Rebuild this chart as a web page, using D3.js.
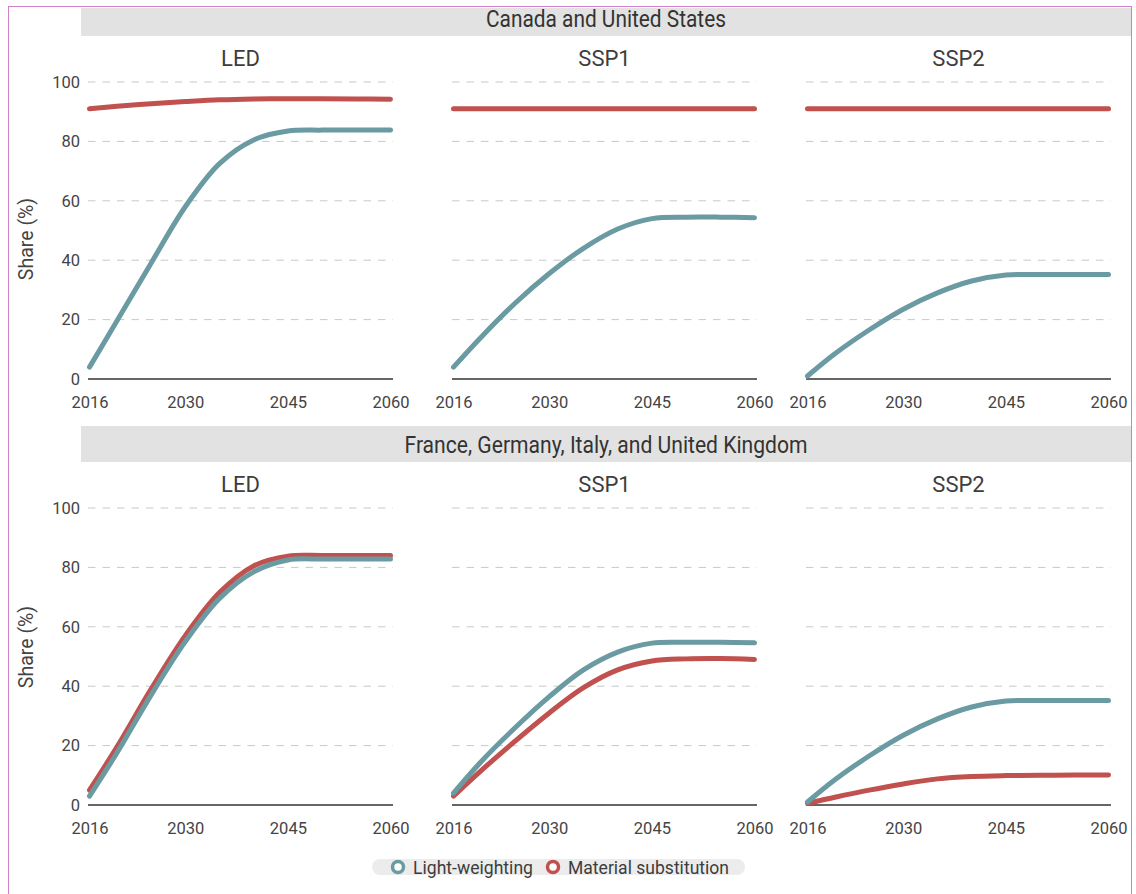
<!DOCTYPE html>
<html>
<head>
<meta charset="utf-8">
<script src="https://cdn.jsdelivr.net/npm/d3@7"></script>
<style>
  body { margin: 0; background: #fff; }
  text { font-family: Roboto, "Noto Sans", sans-serif; }
</style>
</head>
<body>
<script>
// data
const years = [2016, 2020, 2025, 2030, 2035, 2040, 2045, 2050, 2055, 2060];
const regions = ["Canada and United States", "France, Germany, Italy, and United Kingdom"];
const scenarios = ["LED", "SSP1", "SSP2"];
const measures = ["Light-weighting", "Material substitution"];
const xTicks = [2016, 2030, 2045, 2060];
const yTicks = [0, 20, 40, 60, 80, 100];

// Canada and United States
const naLedLight = [4, 19.5, 39, 58, 72.5, 80.5, 83.5, 83.8, 83.8, 83.8];
const naLedMaterial = [91, 91.8, 92.7, 93.4, 94, 94.3, 94.4, 94.4, 94.3, 94.2];
const naSsp1Light = [4, 14, 25.5, 35.5, 44, 50.5, 54, 54.5, 54.5, 54.3];
const naSsp1Material = [91, 91, 91, 91, 91, 91, 91, 91, 91, 91];
const naSsp2Light = [1, 8.5, 16.5, 23.5, 29, 33, 35, 35.2, 35.2, 35.2];
const naSsp2Material = [91, 91, 91, 91, 91, 91, 91, 91, 91, 91];

// France, Germany, Italy, and United Kingdom
const euLedLight = [3, 17.5, 37, 55, 69.5, 78.5, 82.5, 82.8, 82.8, 82.8];
const euLedMaterial = [5, 19.5, 39, 57, 71.5, 80.5, 83.8, 84, 84, 84];
const euSsp1Light = [4, 14.5, 26, 36.5, 45.5, 51.5, 54.5, 54.8, 54.8, 54.6];
const euSsp1Material = [3, 11.5, 21.5, 31, 39.5, 45.5, 48.5, 49.2, 49.3, 49];
const euSsp2Light = [1, 8.5, 16.5, 23.5, 29, 33, 35, 35.2, 35.2, 35.2];
const euSsp2Material = [0.5, 2.6, 5, 7.1, 8.8, 9.6, 9.9, 10, 10.1, 10.1];

// [region][scenario] -> [light, material]
const series = [
    [[naLedLight, naLedMaterial], [naSsp1Light, naSsp1Material], [naSsp2Light, naSsp2Material]],
    [[euLedLight, euLedMaterial], [euSsp1Light, euSsp1Material], [euSsp2Light, euSsp2Material]]
];

// layout
const width = 1136, height = 894;
const panelLeft = [88, 452, 806];
const panelTop = [82, 508];
const panelW = 305, panelH = 297;
const stripTop = [8, 426], stripBottom = [36, 462];
const yLabelCenter = [239, 647];
const colors = ["#6a9aa2", "#c0514e"];
const textColor = "#3d3d3d";

const svg = d3.select("body").append("svg")
    .attr("width", width)
    .attr("height", height);

// small inset so round caps end at the panel edge
const x = d3.scaleLinear().domain([2016, 2060]).range([1.5, panelW - 2.5]);
const y = d3.scaleLinear().domain([0, 100]).range([panelH, 0]);

const line = d3.line()
    .x(function (d, i) { return x(years[i]); })
    .y(function (d) { return y(d); })
    .curve(d3.curveCatmullRom.alpha(0.5));

regions.forEach(function (region, r) {

    // strip
    svg.append("rect")
        .attr("x", 81)
        .attr("y", stripTop[r])
        .attr("width", 1131 - 81)
        .attr("height", stripBottom[r] - stripTop[r])
        .attr("fill", "#e2e2e2");

    svg.append("text")
        .attr("x", 606)
        .attr("y", stripBottom[r] - 9)
        .attr("text-anchor", "middle")
        .attr("font-size", "24px")
        .attr("textLength", r == 0 ? 240 : 403)
        .attr("lengthAdjust", "spacingAndGlyphs")
        .attr("fill", "#333")
        .text(region);

    // y label
    svg.append("text")
        .attr("transform", "translate(33," + yLabelCenter[r] + ") rotate(-90)")
        .attr("text-anchor", "middle")
        .attr("font-size", "19.5px")
        .attr("fill", "#444")
        .text("Share (%)");

    scenarios.forEach(function (scen, s) {
        const g = svg.append("g")
            .attr("transform", "translate(" + panelLeft[s] + "," + panelTop[r] + ")");

        // title
        g.append("text")
            .attr("x", panelW / 2)
            .attr("y", -16)
            .attr("text-anchor", "middle")
            .attr("font-size", "22px")
            .attr("fill", textColor)
            .text(scen);

        // dashed grid
        g.selectAll(".grid")
            .data(yTicks.filter(function (d) { return d > 0; }))
            .enter().append("line")
            .attr("x1", 0)
            .attr("x2", panelW)
            .attr("y1", function (d) { return y(d); })
            .attr("y2", function (d) { return y(d); })
            .attr("stroke", "#c9c9c9")
            .attr("stroke-width", 1)
            .attr("stroke-dasharray", "7.5,7");

        // baseline
        g.append("line")
            .attr("x1", 0)
            .attr("x2", panelW)
            .attr("y1", y(0))
            .attr("y2", y(0))
            .attr("stroke", "#333")
            .attr("stroke-width", 1.4);

        // x axis
        const xa = g.append("g")
            .attr("transform", "translate(0," + panelH + ")")
            .call(d3.axisBottom(x).tickValues(xTicks).tickFormat(d3.format("d")).tickSize(0).tickPadding(17));
        xa.select(".domain").remove();
        xa.selectAll("text")
            .attr("font-size", "16.5px")
            .attr("fill", "#444");

        // y axis only on first column
        if (s == 0) {
            const ya = g.append("g")
                .call(d3.axisLeft(y).tickValues(yTicks).tickSize(0).tickPadding(8));
            ya.select(".domain").remove();
            ya.selectAll("text")
                .attr("font-size", "16.5px")
                .attr("fill", "#444");
        }

        // lines, material first so light-weighting sits on top
        [1, 0].forEach(function (m) {
            g.append("path")
                .datum(series[r][s][m])
                .attr("d", line)
                .attr("fill", "none")
                .attr("stroke", colors[m])
                .attr("stroke-width", 5)
                .attr("stroke-linecap", "round")
                .attr("stroke-linejoin", "round");
        });
    });
});

// legend
const legend = svg.append("g");
legend.append("rect")
    .attr("x", 372)
    .attr("y", 859)
    .attr("width", 373)
    .attr("height", 16)
    .attr("rx", 8)
    .attr("fill", "#ececec");

const legendX = [398, 553];
const legendLen = [120, 161];
measures.forEach(function (name, m) {
    legend.append("circle")
        .attr("cx", legendX[m])
        .attr("cy", 867)
        .attr("r", 5.5)
        .attr("fill", "#fff")
        .attr("stroke", colors[m])
        .attr("stroke-width", 3.5);
    legend.append("text")
        .attr("x", legendX[m] + 15)
        .attr("y", 874)
        .attr("font-size", "18px")
        .attr("textLength", legendLen[m])
        .attr("lengthAdjust", "spacingAndGlyphs")
        .attr("fill", "#3d3d3d")
        .text(name);
});

// outer border
svg.append("rect")
    .attr("x", 8.5)
    .attr("y", 6.5)
    .attr("width", 1123)
    .attr("height", 900)
    .attr("fill", "none")
    .attr("stroke", "#d27fcb")
    .attr("stroke-width", 1);
</script>
</body>
</html>
